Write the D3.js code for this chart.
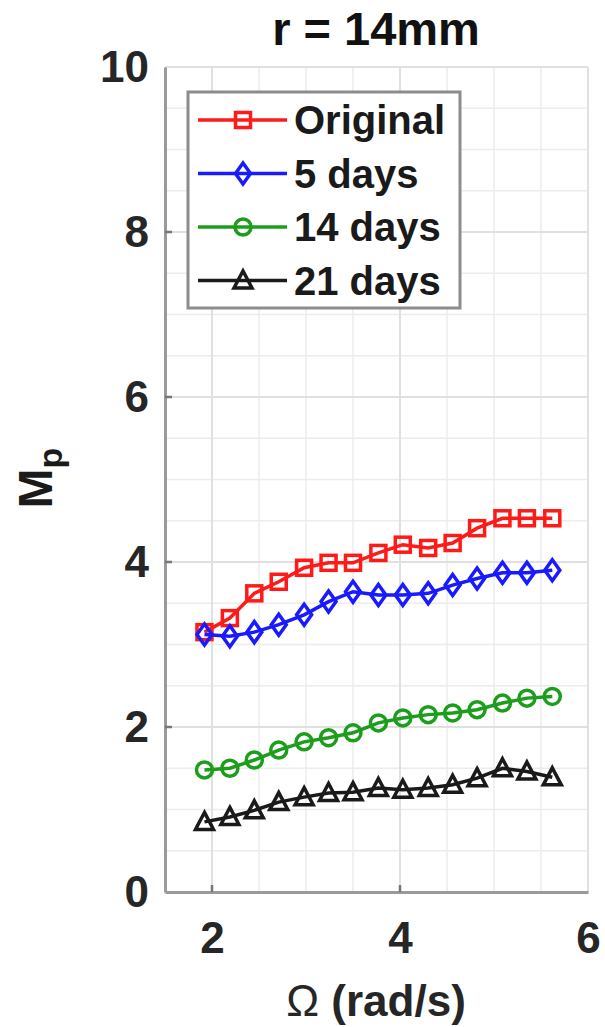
<!DOCTYPE html>
<html>
<head>
<meta charset="utf-8">
<script src="https://cdn.jsdelivr.net/npm/d3@7"></script>
<style>
  html, body { margin: 0; padding: 0; background: #fff; }
  svg { display: block; }
  text { font-family: "Liberation Sans", Arial, Helvetica, sans-serif; }
</style>
</head>
<body>
<svg id="chart" width="605" height="1027"></svg>
<script>
// Excitation frequency (rad/s)
const omega = [1.92, 2.19, 2.45, 2.71, 2.98, 3.24, 3.50, 3.77, 4.03, 4.30, 4.56, 4.82, 5.09, 5.35, 5.62];

// M_p for each ageing condition
const original = [3.15, 3.32, 3.62, 3.76, 3.93, 3.99, 3.99, 4.11, 4.21, 4.17, 4.23, 4.41, 4.53, 4.53, 4.53];
const days5    = [3.12, 3.10, 3.15, 3.24, 3.36, 3.52, 3.64, 3.60, 3.60, 3.62, 3.72, 3.80, 3.87, 3.87, 3.90];
const days14   = [1.48, 1.50, 1.60, 1.72, 1.82, 1.87, 1.93, 2.05, 2.11, 2.15, 2.17, 2.21, 2.29, 2.35, 2.37];
const days21   = [0.85, 0.91, 0.99, 1.09, 1.15, 1.20, 1.21, 1.26, 1.24, 1.26, 1.30, 1.38, 1.50, 1.46, 1.39];

const seriesNames = ["Original", "5 days", "14 days", "21 days"];
const xTicks = [2, 4, 6];
const yTicks = [0, 2, 4, 6, 8, 10];

const series = [
  { name: seriesNames[0], values: original, color: "#ff1a1a", marker: "square" },
  { name: seriesNames[1], values: days5,    color: "#1a1aff", marker: "diamond" },
  { name: seriesNames[2], values: days14,   color: "#1c9e1c", marker: "circle" },
  { name: seriesNames[3], values: days21,   color: "#1a1a1a", marker: "triangle" }
];

const svg = d3.select("#chart");
const L = 165, R = 588, T = 67, B = 892;

const x = d3.scaleLinear().domain([1.5, 6]).range([L, R]);
const y = d3.scaleLinear().domain([0, 10]).range([B, T]);

// Grid: minor every 0.5, major at ticks
const gGrid = svg.append("g");
const minorX = d3.range(1.5, 6.0001, 0.5);
const minorY = d3.range(0, 10.0001, 0.5);
gGrid.selectAll("line.mx").data(minorX).join("line")
  .attr("x1", d => x(d)).attr("x2", d => x(d)).attr("y1", T).attr("y2", B)
  .attr("stroke", "#ececec").attr("stroke-width", 1.5);
gGrid.selectAll("line.my").data(minorY).join("line")
  .attr("x1", L).attr("x2", R).attr("y1", d => y(d)).attr("y2", d => y(d))
  .attr("stroke", "#ececec").attr("stroke-width", 1.5);
gGrid.selectAll("line.Mx").data(xTicks).join("line")
  .attr("x1", d => x(d)).attr("x2", d => x(d)).attr("y1", T).attr("y2", B)
  .attr("stroke", "#e0e0e0").attr("stroke-width", 2);
gGrid.selectAll("line.My").data(yTicks).join("line")
  .attr("x1", L).attr("x2", R).attr("y1", d => y(d)).attr("y2", d => y(d))
  .attr("stroke", "#e0e0e0").attr("stroke-width", 2);

// Axes
const xAxis = d3.axisBottom(x).tickValues(xTicks).tickFormat(d3.format("d")).tickSize(0).tickPadding(30);
const yAxis = d3.axisLeft(y).tickValues(yTicks).tickFormat(d3.format("d")).tickSize(0).tickPadding(16);

const gx = svg.append("g").attr("transform", `translate(0,${B})`).call(xAxis);
const gy = svg.append("g").attr("transform", `translate(${L},0)`).call(yAxis);
[gx, gy].forEach(g => {
  g.select(".domain").attr("stroke", "#9a9a9a").attr("stroke-width", 3);
  g.selectAll(".tick text")
    .attr("fill", "#262626")
    .style("font-size", "44px").style("font-weight", "bold")
    .style("font-family", '"Liberation Sans", Arial, sans-serif');
});
gx.selectAll(".tick text").attr("dy", "0.71em");

// inward tick marks
svg.append("g").selectAll("line").data(xTicks.filter(d => d < 6)).join("line")
  .attr("x1", d => x(d)).attr("x2", d => x(d)).attr("y1", B).attr("y2", B - 7)
  .attr("stroke", "#777").attr("stroke-width", 2.5);
svg.append("g").selectAll("line").data(yTicks.filter(d => d > 0 && d < 10)).join("line")
  .attr("x1", L).attr("x2", L + 7).attr("y1", d => y(d)).attr("y2", d => y(d))
  .attr("stroke", "#777").attr("stroke-width", 2.5);

// Markers
function drawMarker(sel, type, color) {
  if (type === "square") {
    sel.append("rect").attr("x", -7.5).attr("y", -7.5).attr("width", 15).attr("height", 15)
      .attr("fill", "none").attr("stroke", color).attr("stroke-width", 3.5);
  } else if (type === "diamond") {
    sel.append("path").attr("d", "M0,-10.5L7.5,0L0,10.5L-7.5,0Z")
      .attr("fill", "none").attr("stroke", color).attr("stroke-width", 3.5);
  } else if (type === "circle") {
    sel.append("circle").attr("r", 8)
      .attr("fill", "none").attr("stroke", color).attr("stroke-width", 3.5);
  } else if (type === "triangle") {
    sel.append("path").attr("d", "M0,-9.5L9,7.5L-9,7.5Z")
      .attr("fill", "none").attr("stroke", color).attr("stroke-width", 3.5);
  }
}

const line = d3.line().x(d => x(d[0])).y(d => y(d[1]));

series.forEach(s => {
  const pts = omega.map((w, i) => [w, s.values[i]]);
  svg.append("path").datum(pts).attr("d", line)
    .attr("fill", "none").attr("stroke", s.color).attr("stroke-width", 3.5);
  svg.append("g").selectAll("g").data(pts).join("g")
    .attr("transform", d => `translate(${x(d[0])},${y(d[1])})`)
    .each(function () { drawMarker(d3.select(this), s.marker, s.color); });
});

// Legend
const leg = svg.append("g");
leg.append("rect").attr("x", 188).attr("y", 92).attr("width", 272).attr("height", 216)
  .attr("fill", "#fff").attr("stroke", "#8c8c8c").attr("stroke-width", 3);
series.forEach((s, i) => {
  const cy = 120 + i * 53.5;
  leg.append("line").attr("x1", 198).attr("x2", 287).attr("y1", cy).attr("y2", cy)
    .attr("stroke", s.color).attr("stroke-width", 3.5);
  const m = leg.append("g").attr("transform", `translate(243,${cy})`);
  drawMarker(m, s.marker, s.color);
  leg.append("text").attr("x", 294).attr("y", cy).attr("dy", "0.36em")
    .attr("fill", "#1a1a1a")
    .style("font-size", "40px").style("font-weight", "bold")
    .text(s.name);
});

// Title
svg.append("text").attr("x", 376).attr("y", 45).attr("text-anchor", "middle")
  .attr("fill", "#111").style("font-size", "47px").style("font-weight", "bold")
  .text("r = 14mm");

// Y label
const yl = svg.append("text").attr("transform", `translate(52,478) rotate(-90)`)
  .attr("text-anchor", "middle").attr("fill", "#1a1a1a")
  .style("font-size", "48px").style("font-weight", "bold");
yl.append("tspan").text("M");
yl.append("tspan").attr("dy", 10).style("font-size", "34px").text("p");

// X label
const xl = svg.append("text").attr("x", 376).attr("y", 1016).attr("text-anchor", "middle")
  .attr("fill", "#262626").style("font-size", "44px");
xl.append("tspan").style("font-weight", "normal").text("Ω ");
xl.append("tspan").style("font-weight", "bold").text("(rad/s)");
</script>
</body>
</html>
